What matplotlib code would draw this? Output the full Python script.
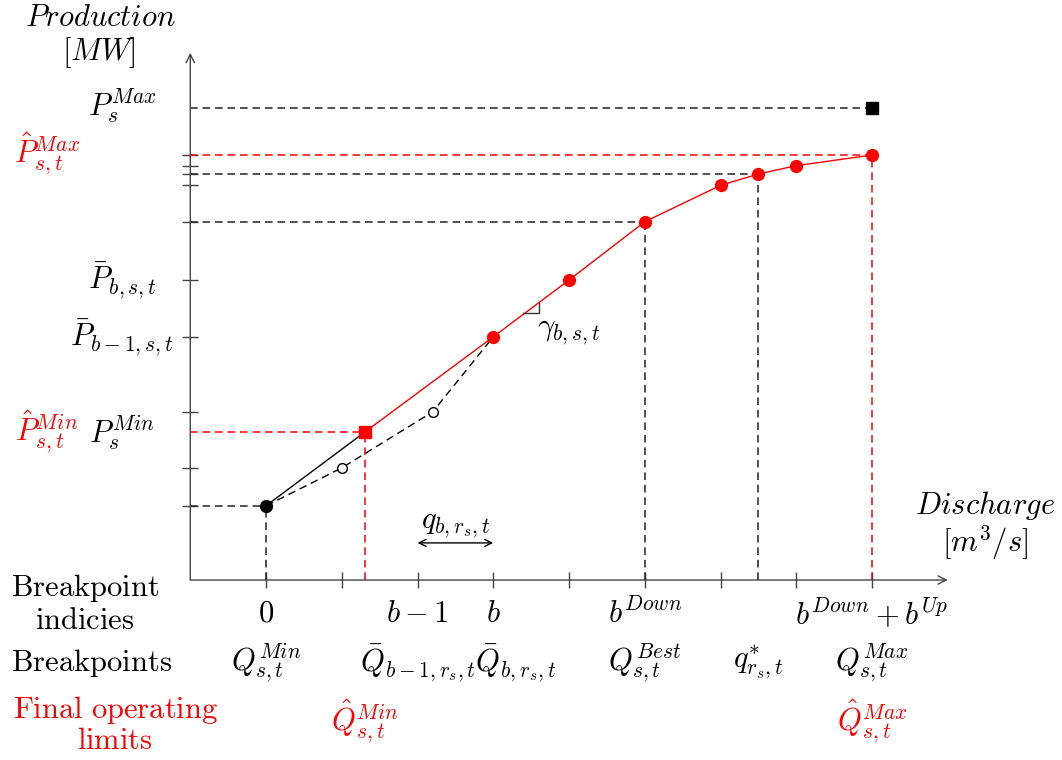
import matplotlib
matplotlib.use('Agg')
import matplotlib.pyplot as plt

plt.rcParams['mathtext.fontset'] = 'cm'
plt.rcParams['lines.scale_dashes'] = False

# breakpoint index ticks on the discharge axis
idx_ticks = [0, 1, 2, 3, 4, 5, 6, 7, 8]
idx_labels = {0: r'$0$', 2: r'$b-1$', 3: r'$b$', 5: r'$b^{Down}$', 8: r'$b^{Down}+b^{Up}$'}

# breakpoint names (discharge position, label)
bp_x = [0, 2, 3.3, 5, 6.5, 8]
bp_labels = [r'$Q_{s,t}^{Min}$', r'$\bar{Q}_{b-1,r_s,t}$', r'$\bar{Q}_{b,r_s,t}$',
             r'$Q_{s,t}^{Best}$', r'$q^{*}_{r_s,t}$', r'$Q_{s,t}^{Max}$']

# original (dashed) curve from Q^Min
q_orig = [0, 1, 2.2, 3]
p_orig = [0.98, 1.48, 2.22, 3.21]

# final curve (red), starting at the new minimum
q_final = [1.3, 3, 4, 5, 6, 6.5, 7, 8]
p_final = [1.95, 3.21, 3.96, 4.73, 5.21, 5.36, 5.47, 5.61]

p_max = 6.23
q_hat_min, q_hat_max = 1.3, 8
p_hat_min, p_hat_max = 1.95, 5.61

# production ticks on the vertical axis
p_ticks = [0.98, 1.48, 2.22, 3.21, 3.96, 4.73, 5.21, 5.36, 5.47, 5.61]

fig = plt.figure(figsize=(10.62, 7.6), dpi=100)
ax = fig.add_axes([0, 0, 1, 1])
ax.set_xlim(-3.512, 10.508)
ax.set_ylim(-2.376, 7.657)
ax.axis('off')

fs = 22
ax_col = '#444444'
dash = (5.5, 3.5)

# axes with arrows
ax.annotate('', xy=(9.0, 0), xytext=(-1, 0),
            arrowprops=dict(arrowstyle='->,head_length=0.6,head_width=0.3', lw=1.0,
                            color=ax_col, shrinkA=0, shrinkB=0))
ax.annotate('', xy=(-1, 6.96), xytext=(-1, 0),
            arrowprops=dict(arrowstyle='->,head_length=0.6,head_width=0.3', lw=1.0,
                            color=ax_col, shrinkA=0, shrinkB=0))

# ticks
ax.vlines(idx_ticks, -0.105, 0.105, color=ax_col, lw=1.0)
ax.hlines(p_ticks, -1.105, -0.895, color=ax_col, lw=1.0)

# dashed guide lines
for y, x in [(p_orig[0], 0), (4.73, 5), (5.36, 6.5), (p_max, 8)]:
    ax.plot([-1, x], [y, y], color='#222222', lw=1.1, dashes=dash)
for x, y in [(0, p_orig[0]), (5, 4.73), (6.5, 5.36)]:
    ax.plot([x, x], [0, y], color='#222222', lw=1.1, dashes=dash)
ax.plot([-1, q_hat_min], [p_hat_min, p_hat_min], color='red', lw=1.1, dashes=dash)
ax.plot([-1, q_hat_max], [p_hat_max, p_hat_max], color='red', lw=1.1, dashes=dash)
ax.plot([q_hat_min, q_hat_min], [0, p_hat_min], color='red', lw=1.1, dashes=dash)
ax.plot([q_hat_max, q_hat_max], [0, p_hat_max], color='red', lw=1.1, dashes=dash)

# curves
ax.plot(q_orig, p_orig, color='black', lw=1.0, dashes=dash)
ax.plot([q_orig[0], q_final[0]], [p_orig[0], p_final[0]], color='black', lw=1.0)
ax.plot(q_final, p_final, color='red', lw=1.0)

# markers
ax.plot(q_orig[1:3], p_orig[1:3], 'o', ms=7, mfc='white', mec='black', mew=1.0, zorder=5)
ax.plot(q_orig[0], p_orig[0], 'o', ms=8.5, color='black', zorder=5)
ax.plot(q_final[1:], p_final[1:], 'o', ms=8.5, color='red', zorder=5)
ax.plot(q_final[0], p_final[0], 's', ms=8.5, color='red', zorder=5)
ax.plot(8, p_max, 's', ms=8.5, color='black', zorder=5)

# slope mark
ax.plot([3.39, 3.60, 3.60], [3.52, 3.52, 3.66], color='#333333', lw=1.0)
ax.text(3.99, 3.27, r'$\gamma_{b,s,t}$', fontsize=fs, ha='center', va='center')

# segment width arrow
ax.annotate('', xy=(3, 0.49), xytext=(2, 0.49),
            arrowprops=dict(arrowstyle='<->,head_length=0.5,head_width=0.25', lw=1.0,
                            color='black', shrinkA=0, shrinkB=0))
ax.text(2.5, 0.72, r'$q_{b,r_s,t}$', fontsize=fs, ha='center', va='center')

# axis titles
ax.text(-2.19, 7.42, r'$Production$', fontsize=fs, ha='center', va='center')
ax.text(-2.20, 6.96, r'$[MW]$', fontsize=fs, ha='center', va='center')
ax.text(9.49, 0.99, r'$Discharge$', fontsize=fs, ha='center', va='center')
ax.text(9.49, 0.49, r'$[m^3/s]$', fontsize=fs, ha='center', va='center')

# production labels
xl_black, xl_red = -1.90, -2.89
ax.text(xl_black, 6.26, r'$P_{s}^{Max}$', fontsize=fs, ha='center', va='center')
ax.text(xl_red, 5.62, r'$\hat{P}_{s,t}^{Max}$', fontsize=fs, ha='center', va='center', color='red')
ax.text(xl_black, 3.96, r'$\bar{P}_{b,s,t}$', fontsize=fs, ha='center', va='center')
ax.text(xl_black, 3.21, r'$\bar{P}_{b-1,s,t}$', fontsize=fs, ha='center', va='center')
ax.text(xl_black, 1.95, r'$P_{s}^{Min}$', fontsize=fs, ha='center', va='center')
ax.text(xl_red, 1.95, r'$\hat{P}_{s,t}^{Min}$', fontsize=fs, ha='center', va='center', color='red')

# row titles
ax.text(-2.39, -0.10, r'$\mathrm{Breakpoint}$', fontsize=fs, ha='center', va='center')
ax.text(-2.39, -0.53, r'$\mathrm{indicies}$', fontsize=fs, ha='center', va='center')
ax.text(-2.30, -1.09, r'$\mathrm{Breakpoints}$', fontsize=fs, ha='center', va='center')
ax.text(-1.99, -1.71, r'$\mathrm{Final\ operating}$', fontsize=fs, ha='center', va='center', color='red')
ax.text(-1.99, -2.12, r'$\mathrm{limits}$', fontsize=fs, ha='center', va='center', color='red')

# row contents
for i, lab in idx_labels.items():
    ax.text(i, -0.44, lab, fontsize=fs, ha='center', va='center')
for x, lab in zip(bp_x, bp_labels):
    ax.text(x, -1.09, lab, fontsize=fs, ha='center', va='center')
ax.text(q_hat_min, -1.87, r'$\hat{Q}_{s,t}^{Min}$', fontsize=fs, ha='center', va='center', color='red')
ax.text(q_hat_max, -1.87, r'$\hat{Q}_{s,t}^{Max}$', fontsize=fs, ha='center', va='center', color='red')

fig.savefig('out.png', dpi=100)
